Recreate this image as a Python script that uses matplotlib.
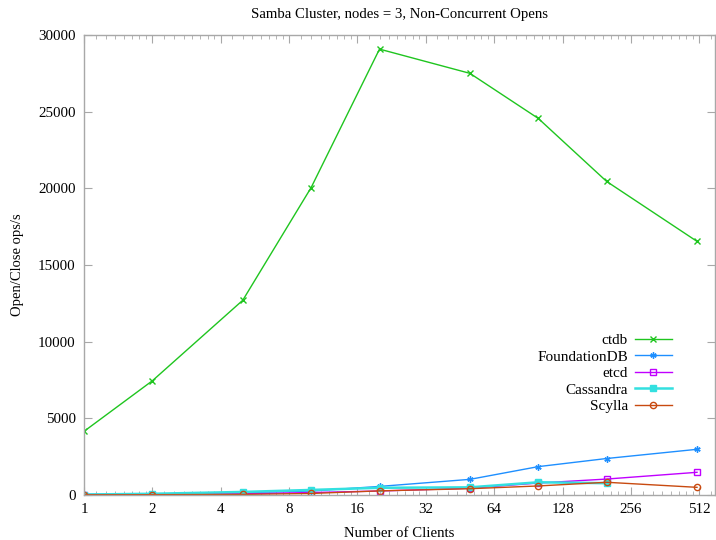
import matplotlib
matplotlib.use("Agg")
import matplotlib.pyplot as plt
from matplotlib.ticker import LogLocator, FixedLocator, NullFormatter
import numpy as np

plt.rcParams['font.family'] = ['Liberation Serif', 'DejaVu Serif']
plt.rcParams['font.size'] = 11

clients = [1, 2, 5, 10, 20, 50, 100, 200, 500]

ctdb = [4150, 7450, 12700, 20050, 29080, 27500, 24560, 20450, 16540]
foundationdb = [40, 70, 150, 260, 560, 1020, 1850, 2380, 2980]
etcd = [20, 30, 80, 160, 260, 440, 780, 1040, 1480]
cassandra = [30, 80, 200, 330, 470, 500, 830, 770, None]
scylla = [15, 20, 40, 100, 270, 410, 590, 830, 500]

series = [
    ("ctdb", ctdb, '#1fc51f', 'x', 'full', 1.0),
    ("FoundationDB", foundationdb, '#1e8fff', (6, 2, 0), 'full', 1.0),
    ("etcd", etcd, '#c000ff', 's', 'none', 1.0),
    ("Cassandra", cassandra, '#33e0e0', 's', 'full', 1.8),
    ("Scylla", scylla, '#c84a10', 'o', 'none', 1.0),
]

fig = plt.figure(figsize=(7.16, 5.40), dpi=100)
ax = fig.add_axes([84 / 716, 45 / 540, 631 / 716, 460 / 540])

for name, vals, col, mk, fill, lw in series:
    xs = [c for c, v in zip(clients, vals) if v is not None]
    ys = [v for v in vals if v is not None]
    ax.plot(xs, ys, color=col, marker=mk, fillstyle=fill, markersize=4.5,
            markeredgewidth=1.0, linewidth=lw, label=name)

ax.set_xscale('log', base=2)
ax.set_xlim(1, 600)
ax.set_ylim(0, 30000)
ticks = [1, 2, 4, 8, 16, 32, 64, 128, 256, 512]
ax.xaxis.set_major_locator(FixedLocator(ticks))
ax.set_xticklabels([str(t) for t in ticks])
ax.xaxis.set_minor_locator(LogLocator(base=2, subs=np.arange(1.125, 2.0, 0.125), numticks=20))
ax.xaxis.set_minor_formatter(NullFormatter())
ax.set_yticks(np.arange(0, 30001, 5000))

for s in ax.spines.values():
    s.set_color('#a8a8a8')
    s.set_linewidth(1.0)
ax.tick_params(which='both', direction='in', top=True, right=True, color='#a8a8a8',
               labelsize=10.8)
ax.tick_params(which='major', length=6, pad=6)
ax.tick_params(which='minor', length=3)

ax.set_title("Samba Cluster, nodes = 3, Non-Concurrent Opens", fontsize=10.6, pad=12)
ax.set_xlabel("Number of Clients", fontsize=10.6, labelpad=8)
ax.set_ylabel("Open/Close ops/s", fontsize=10.5, labelpad=10)

ax.legend(loc='upper right', bbox_to_anchor=(0.941, 0.364), frameon=False,
          markerfirst=False, handlelength=2.4, labelspacing=0.18,
          handletextpad=0.45, borderaxespad=0)

fig.savefig("out.png", dpi=100)
